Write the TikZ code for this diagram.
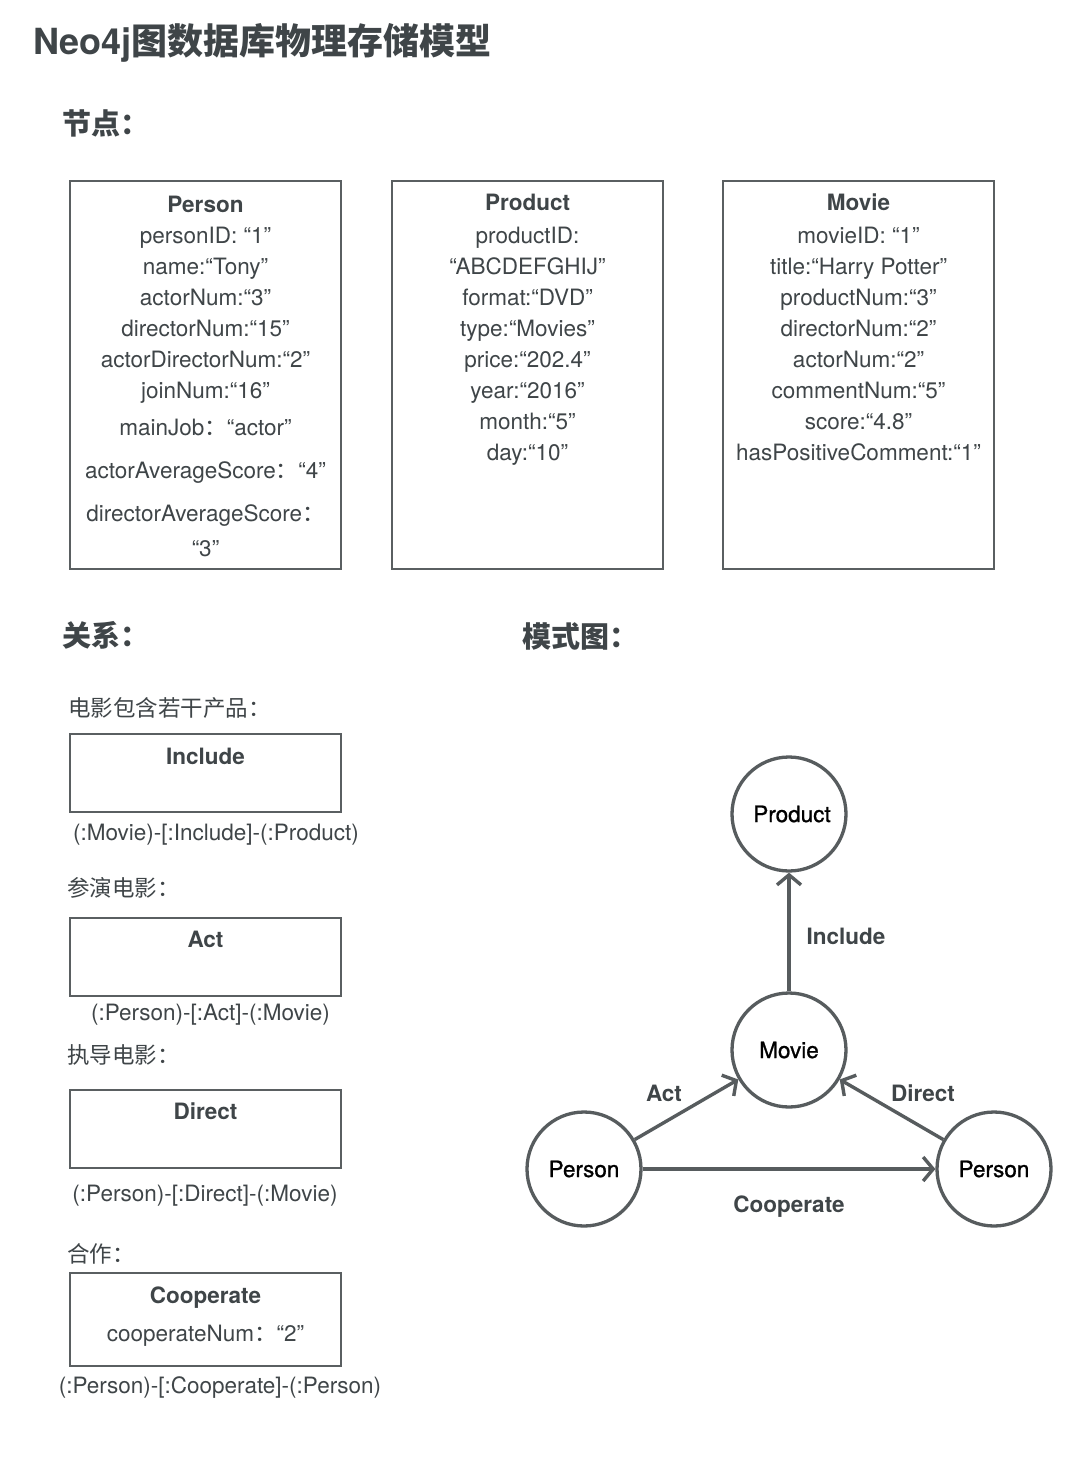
\documentclass[tikz,border=0pt]{standalone}
\usepackage{fontspec}
\setmainfont{TeX Gyre Heros}
\newfontfamily\cjk{Noto Sans CJK SC}
\newfontfamily\medfont[FakeBold=1.0]{TeX Gyre Heros}
\usetikzlibrary{arrows.meta}
\definecolor{txtc}{HTML}{3F4548}
\definecolor{bord}{HTML}{5A5F61}
\definecolor{circc}{HTML}{575C5E}
\begin{document}
\begin{tikzpicture}[x=1pt,y=-1pt,
  every node/.style={inner sep=0pt, outer sep=0pt},
  body/.style={font=\fontsize{22.5}{26}\selectfont, text=txtc, anchor=base},
  bbody/.style={font=\fontsize{22.5}{26}\selectfont\bfseries, text=txtc, anchor=base},
  lbody/.style={font=\fontsize{22.5}{26}\selectfont, text=txtc, anchor=base west},
  head/.style={font=\fontsize{29}{34}\selectfont\bfseries, text=txtc, anchor=base west},
  box/.style={draw=bord, line width=2pt, anchor=north west, minimum width=271pt},
  circ/.style={circle, draw=circc, line width=3.3pt, minimum size=114pt, outer sep=1.65pt,
    font=\fontsize{22.5}{26}\medfont, text=black},
  arr/.style={draw=circc, line width=3.4pt, -{Straight Barb[length=10pt, width=24pt]}},
  elab/.style={font=\fontsize{22.5}{26}\selectfont\bfseries, text=txtc, anchor=base}
]
\fill[white] (0,0) rectangle (1088,1458);
\useasboundingbox (0,0) rectangle (1088,1458);

% title and headings
\node[anchor=base west, font=\fontsize{36}{40}\selectfont\bfseries, text=txtc] (title) at (33,55) {Neo4j{\cjk 图数据库物理存储模型}};
\node[head] (hnodes) at (62,135) {\cjk 节点：};
\node[head] (hrels) at (62,646) {\cjk 关系：};
\node[head] (hschema) at (522,647) {\cjk 模式图：};

% node boxes
\node[box, minimum height=388pt] (personbox) at (70,181) {};
\node[box, minimum height=388pt] (productbox) at (392,181) {};
\node[box, minimum height=388pt] (moviebox) at (723,181) {};

\node[bbody] (pa0) at (205.5,212) {Person};
\node[body] (pa1) at (205.5,243) {personID: “1”};
\node[body] (pa2) at (205.5,274) {name:“Tony”};
\node[body] (pa3) at (205.5,305) {actorNum:“3”};
\node[body] (pa4) at (205.5,336) {directorNum:“15”};
\node[body] (pa5) at (205.5,367) {actorDirectorNum:“2”};
\node[body] (pa6) at (205.5,398) {joinNum:“16”};
\node[body] (pa7) at (205.5,435) {mainJob{\cjk ：}“actor”};
\node[body] (pa8) at (205.5,478) {actorAverageScore{\cjk ：}“4”};
\node[body] (pa9) at (205.5,521) {directorAverageScore{\cjk ：}};
\node[body] (pa10) at (205.5,556) {“3”};

\node[bbody] (pr0) at (527.5,211) {Product};
\node[body] (pr1) at (527.5,243) {productID:};
\node[body] (pr2) at (527.5,274) {“ABCDEFGHIJ”};
\node[body] (pr3) at (527.5,305) {format:“DVD”};
\node[body] (pr4) at (527.5,336) {type:“Movies”};
\node[body] (pr5) at (527.5,367) {price:“202.4”};
\node[body] (pr6) at (527.5,398) {year:“2016”};
\node[body] (pr7) at (527.5,429) {month:“5”};
\node[body] (pr8) at (527.5,460) {day:“10”};

\node[bbody] (mv0) at (858.5,211) {Movie};
\node[body] (mv1) at (858.5,243) {movieID: “1”};
\node[body] (mv2) at (858.5,274) {title:“Harry Potter”};
\node[body] (mv3) at (858.5,305) {productNum:“3”};
\node[body] (mv4) at (858.5,336) {directorNum:“2”};
\node[body] (mv5) at (858.5,367) {actorNum:“2”};
\node[body] (mv6) at (858.5,398) {commentNum:“5”};
\node[body] (mv7) at (858.5,429) {score:“4.8”};
\node[body] (mv8) at (858.5,460) {hasPositiveComment:“1”};

% relation boxes
\node[lbody] (s1) at (68,716) {\cjk 电影包含若干产品：};
\node[box, minimum height=78pt] (incbox) at (70,734) {};
\node[bbody] (inct) at (205.5,764) {Include};
\node[body] (incp) at (216,840) {(:Movie)-[:Include]-(:Product)};

\node[lbody] (s2) at (67,896) {\cjk 参演电影：};
\node[box, minimum height=78pt] (actbox) at (70,918) {};
\node[bbody] (actt) at (205.5,947) {Act};
\node[body] (actp) at (210.5,1020) {(:Person)-[:Act]-(:Movie)};

\node[lbody] (s3) at (67,1063) {\cjk 执导电影：};
\node[box, minimum height=78pt] (dirbox) at (70,1090) {};
\node[bbody] (dirt) at (205.5,1119) {Direct};
\node[body] (dirp) at (205,1201) {(:Person)-[:Direct]-(:Movie)};

\node[lbody] (s4) at (67,1262) {\cjk 合作：};
\node[box, minimum height=93pt] (coobox) at (70,1273) {};
\node[bbody] (coot) at (205.5,1303) {Cooperate};
\node[body] (coon) at (205.5,1341) {cooperateNum{\cjk ：}“2”};
\node[body] (coop) at (220,1393) {(:Person)-[:Cooperate]-(:Person)};

% schema graph
\node[circ] (product) at (789,814) {\hspace*{6pt}Product};
\node[circ] (movie) at (789,1050) {Movie};
\node[circ] (person1) at (584,1169) {Person};
\node[circ] (person2) at (994,1169) {Person};

\draw[arr] (movie) -- (product);
\draw[arr] (person1) -- (movie);
\draw[arr] (person2) -- (movie);
\draw[arr] (person1) -- (person2);

\node[elab] (linc) at (846,944) {Include};
\node[elab] (lact) at (664,1101) {Act};
\node[elab] (ldir) at (923,1101) {Direct};
\node[elab] (lcoo) at (789,1212) {Cooperate};
\end{tikzpicture}
\end{document}
